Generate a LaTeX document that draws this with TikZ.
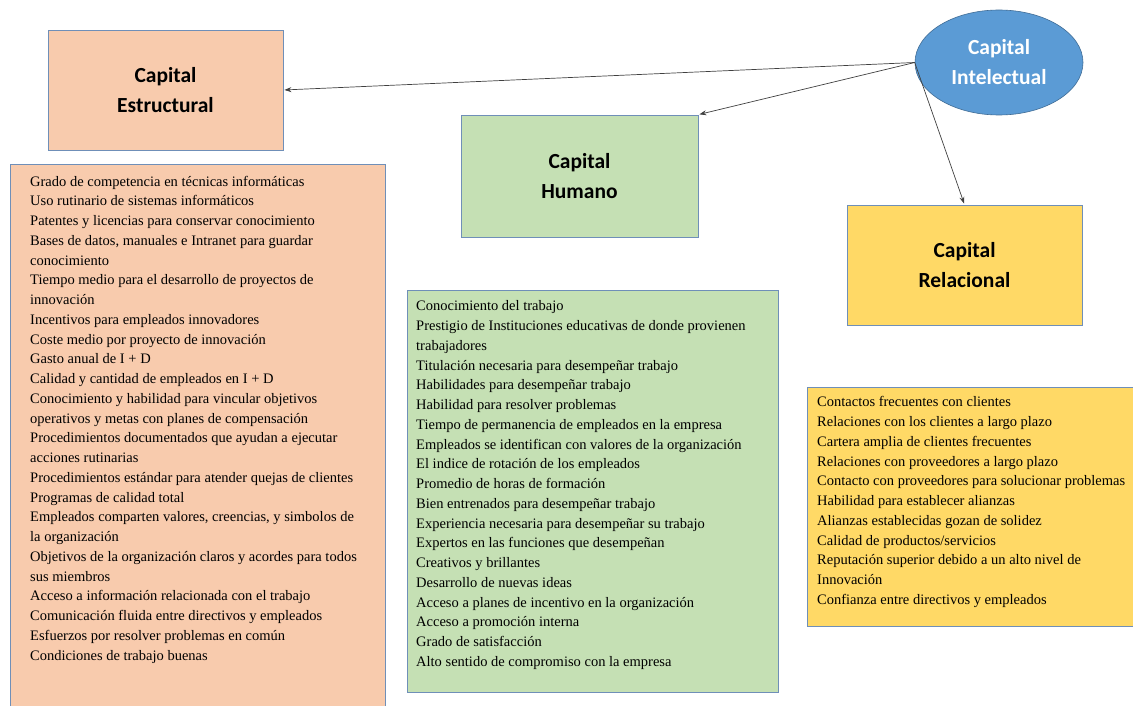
\documentclass[tikz,border=0pt]{standalone}
\usepackage{fontspec}
\setmainfont{Liberation Serif}
\newfontfamily\titlefont{Carlito}
\usetikzlibrary{shapes.geometric,arrows.meta}

\definecolor{peach}{HTML}{F8CBAD}
\definecolor{leaf}{HTML}{C5E0B4}
\definecolor{gold}{HTML}{FFD966}
\definecolor{sky}{HTML}{5B9BD5}
\definecolor{rim}{HTML}{6F8FB8}

\begin{document}
\begin{tikzpicture}[x=1pt, y=-1pt, >={Stealth[length=7pt,width=5pt]},
  titlebox/.style={draw=rim, line width=0.8pt, inner sep=0pt, align=center,
    font=\titlefont\bfseries\fontsize{21.5}{30}\selectfont},
  listbox/.style={draw=rim, line width=0.8pt, anchor=north west, inner sep=0pt},
  listtext/.style={anchor=north west, inner sep=0pt, align=left,
    font=\fontsize{14.5}{19.75}\selectfont, execute at begin node=\strut},
  link/.style={->, draw=black!75, line width=0.7pt, shorten >=1pt}]
\useasboundingbox (0,0) rectangle (1133,706);

% cabeceras
\node[ellipse, fill=sky, draw=sky!70!black, line width=0.6pt, minimum width=168, minimum height=105,
  text=white, font=\titlefont\bfseries\fontsize{21.5}{30}\selectfont, align=center]
  (ci) at (999,62.5) {Capital\\Intelectual};
\node[titlebox, fill=peach, minimum width=235, minimum height=120] (ce) at (165.5,90) {Capital\\Estructural};
\node[titlebox, fill=leaf, minimum width=237, minimum height=122] (ch) at (579.5,176) {Capital\\Humano};
\node[titlebox, fill=gold, minimum width=235, minimum height=120] (cr) at (964.5,265) {Capital\\Relacional};

\draw[link] (ci.west) -- (ce.east);
\draw[link] (ci.west) -- (ch.north east);
\draw[link] (ci.west) -- (cr.north);

% listas
\node[listbox, fill=peach, minimum width=375, minimum height=550] (le) at (10,164) {};
\node[listtext] (te) at (30,175.7) {Grado de competencia en técnicas informáticas\\
Uso rutinario de sistemas informáticos\\
Patentes y licencias para conservar conocimiento\\
Bases de datos, manuales e Intranet para guardar\\
conocimiento\\
Tiempo medio para el desarrollo de proyectos de\\
innovación\\
Incentivos para empleados innovadores\\
Coste medio por proyecto de innovación\\
Gasto anual de I + D\\
Calidad y cantidad de empleados en I + D\\
Conocimiento y habilidad para vincular objetivos\\
operativos y metas con planes de compensación\\
Procedimientos documentados que ayudan a ejecutar\\
acciones rutinarias\\
Procedimientos estándar para atender quejas de clientes\\
Programas de calidad total\\
Empleados comparten valores, creencias, y simbolos de\\
la organización\\
Objetivos de la organización claros y acordes para todos\\
sus miembros\\
Acceso a información relacionada con el trabajo\\
Comunicación fluida entre directivos y empleados\\
Esfuerzos por resolver problemas en común\\
Condiciones de trabajo buenas};

\node[listbox, fill=leaf, minimum width=371, minimum height=402] (lh) at (407,290) {};
\node[listtext] (th) at (416,300.5) {Conocimiento del trabajo\\
Prestigio de Instituciones educativas de donde provienen\\
trabajadores\\
Titulación necesaria para desempeñar trabajo\\
Habilidades para desempeñar trabajo\\
Habilidad para resolver problemas\\
Tiempo de permanencia de empleados en la empresa\\
Empleados se identifican con valores de la organización\\
El indice de rotación de los empleados\\
Promedio de horas de formación\\
Bien entrenados para desempeñar trabajo\\
Experiencia necesaria para desempeñar su trabajo\\
Expertos en las funciones que desempeñan\\
Creativos y brillantes\\
Desarrollo de nuevas ideas\\
Acceso a planes de incentivo en la organización\\
Acceso a promoción interna\\
Grado de satisfacción\\
Alto sentido de compromiso con la empresa};

\node[listbox, fill=gold, minimum width=340, minimum height=239] (lr) at (807,387) {};
\node[listtext] (tr) at (817,396.5) {Contactos frecuentes con clientes\\
Relaciones con los clientes a largo plazo\\
Cartera amplia de clientes frecuentes\\
Relaciones con proveedores a largo plazo\\
Contacto con proveedores para solucionar problemas\\
Habilidad para establecer alianzas\\
Alianzas establecidas gozan de solidez\\
Calidad de productos/servicios\\
Reputación superior debido a un alto nivel de\\
Innovación\\
Confianza entre directivos y empleados};
\end{tikzpicture}
\end{document}
